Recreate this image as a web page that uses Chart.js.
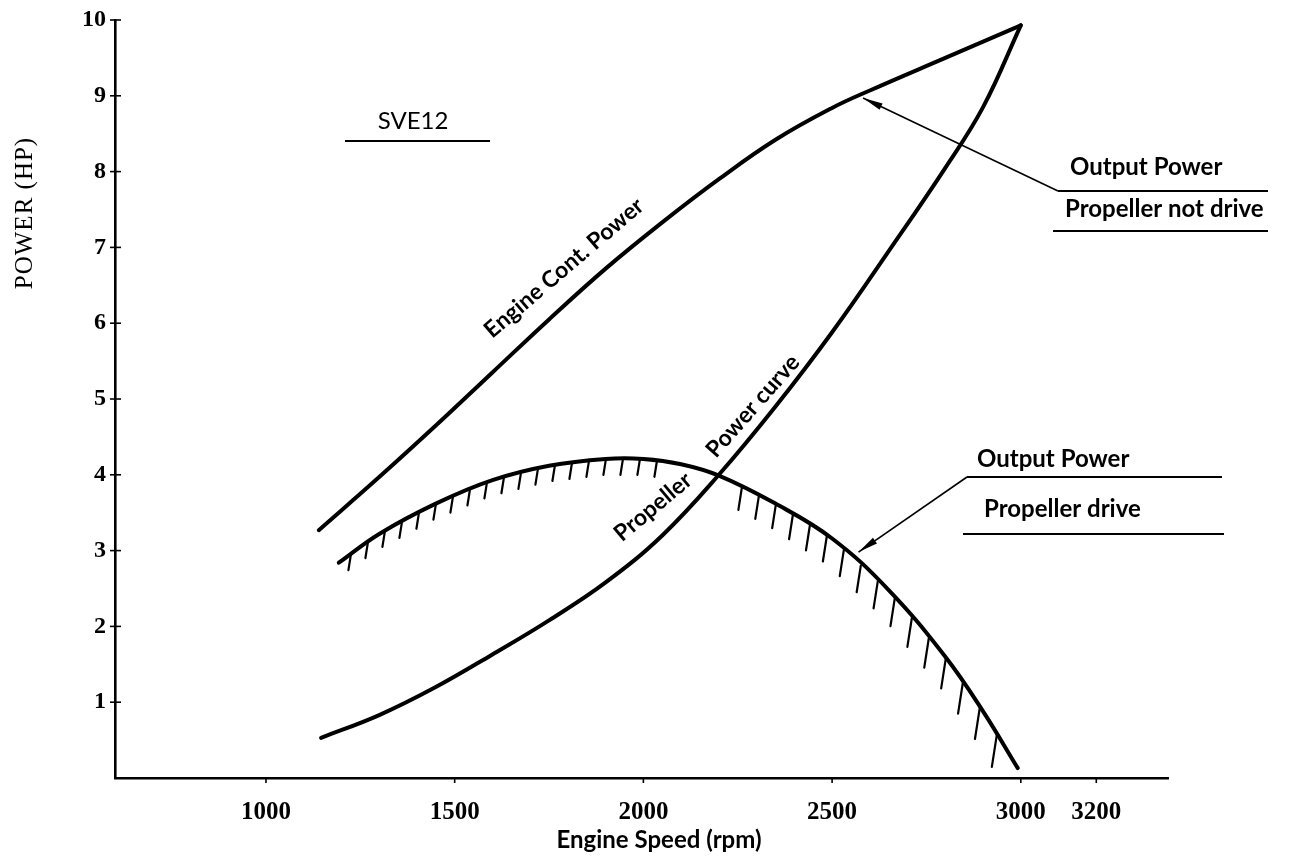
<!DOCTYPE html>
<html lang="en">
<head>
<meta charset="UTF-8">
<title>SVE12 Power Curves</title>
<script src="https://cdn.jsdelivr.net/npm/chart.js"></script>
<style>
  html, body { margin: 0; padding: 0; background: #fff; }
  #wrap { width: 1294px; height: 859px; }
</style>
</head>
<body>
<div id="wrap"><canvas id="powerChart" width="1294" height="859"></canvas></div>
<script>
// values: engine speed (rpm) / power (HP)
const engineRpm   = [1140, 1300, 1450, 1600, 1750, 1900, 2050, 2200, 2350, 2500, 2600, 2800, 3000];
const enginePower = [3.27, 3.97, 4.65, 5.35, 6.05, 6.72, 7.33, 7.90, 8.42, 8.84, 9.07, 9.50, 9.93];

const propRpm   = [1146, 1300, 1450, 1600, 1750, 1900, 2050, 2200, 2350, 2500, 2650, 2800, 2900, 3000];
const propPower = [0.53, 0.83, 1.20, 1.63, 2.08, 2.58, 3.20, 4.00, 4.90, 5.88, 6.95, 8.05, 8.85, 9.93];

const driveRpm   = [1193, 1300, 1450, 1600, 1750, 1900, 2000, 2100, 2200, 2350, 2500, 2650, 2800, 2900, 2992];
const drivePower = [2.84, 3.22, 3.62, 3.93, 4.12, 4.21, 4.21, 4.14, 3.99, 3.62, 3.16, 2.48, 1.60, 0.88, 0.13];

const xTicks = [1000, 1500, 2000, 2500, 3000, 3200];
const yTicks = [1, 2, 3, 4, 5, 6, 7, 8, 9, 10];

const toPoints = (xs, ys) => xs.map((v, i) => ({ x: v, y: ys[i] }));

const serif = '"Liberation Serif", "DejaVu Serif", serif';
const sans = 'Lato, "Open Sans", sans-serif';

function arrowTo(ctx, x0, y0, x1, y1) {
    ctx.beginPath();
    ctx.moveTo(x0, y0);
    ctx.lineTo(x1, y1);
    ctx.stroke();
    const a = Math.atan2(y1 - y0, x1 - x0);
    const L = 20, W = 3.5;
    ctx.beginPath();
    ctx.moveTo(x1, y1);
    ctx.lineTo(x1 - L * Math.cos(a) + W * Math.sin(a), y1 - L * Math.sin(a) - W * Math.cos(a));
    ctx.lineTo(x1 - L * Math.cos(a) - W * Math.sin(a), y1 - L * Math.sin(a) + W * Math.cos(a));
    ctx.closePath();
    ctx.fill();
}

function rotatedText(ctx, text, x, y, deg) {
    ctx.save();
    ctx.translate(x, y);
    ctx.rotate(deg * Math.PI / 180);
    ctx.textAlign = 'center';
    ctx.textBaseline = 'middle';
    ctx.fillText(text, 0, 0);
    ctx.restore();
}

// short hatch strokes hanging under the "propeller drive" output curve
const hatchPlugin = {
    id: 'hatch',
    afterDatasetsDraw(chart) {
        const ctx = chart.ctx;
        const xs = chart.scales.x;
        const gapA = xs.getPixelForValue(2075), gapB = xs.getPixelForValue(2235);
        chart.data.datasets.forEach((ds, i) => {
            if (!ds.hatch) return;
            const pts = chart.getDatasetMeta(i).data;
            ctx.save();
            ctx.strokeStyle = '#000';
            ctx.lineWidth = 2.2;
            ctx.lineCap = 'round';
            let seg = 0;
            for (let px = pts[0].x + 12; px < pts[pts.length - 1].x - 6; px += 17) {
                if (px > gapA && px < gapB) continue;
                while (seg < pts.length - 2 && pts[seg + 1].x < px) seg++;
                const p0 = pts[seg], p1 = pts[seg + 1];
                const py = p0.y + (p1.y - p0.y) * (px - p0.x) / (p1.x - p0.x);
                const rpm = xs.getValueForPixel(px);
                const t = Math.max(0, Math.min(1, (rpm - 2200) / 800));
                const len = rpm < 2200 ? 16 : 22 + 12 * t;
                ctx.beginPath();
                ctx.moveTo(px, py + 1);
                ctx.lineTo(px - 0.15 * len, py + len);
                ctx.stroke();
            }
            ctx.restore();
        });
    }
};

const annotatePlugin = {
    id: 'annotate',
    afterDraw(chart) {
        const ctx = chart.ctx;
        const xs = chart.scales.x, ys = chart.scales.y;
        ctx.save();
        ctx.fillStyle = '#000';
        ctx.strokeStyle = '#000';

        // tick crosses on the axes
        ctx.lineWidth = 1.6;
        yTicks.forEach(v => {
            const py = ys.getPixelForValue(v);
            ctx.beginPath();
            ctx.moveTo(xs.left - 5, py);
            ctx.lineTo(xs.left + 6, py);
            ctx.stroke();
        });
        xTicks.forEach(v => {
            const px = xs.getPixelForValue(v);
            ctx.beginPath();
            ctx.moveTo(px, ys.bottom - 1);
            ctx.lineTo(px, ys.bottom + 5);
            ctx.stroke();
        });

        // axis titles
        ctx.save();
        ctx.font = '25px ' + serif;
        ctx.letterSpacing = '1px';
        ctx.translate(25, 213);
        ctx.rotate(-Math.PI / 2);
        ctx.textAlign = 'center';
        ctx.textBaseline = 'middle';
        ctx.fillText('POWER (HP)', 0, 0);
        ctx.restore();

        ctx.font = 'bold 24px ' + sans;
        ctx.textAlign = 'center';
        ctx.textBaseline = 'middle';
        ctx.fillText('Engine Speed (rpm)', 659, 840);

        // model name
        ctx.font = '24px ' + sans;
        ctx.textBaseline = 'alphabetic';
        ctx.fillText('SVE12', 413, 129);
        ctx.lineWidth = 2;
        ctx.beginPath();
        ctx.moveTo(345, 141);
        ctx.lineTo(490, 141);
        ctx.stroke();

        // curve labels
        ctx.font = 'bold 23px ' + sans;
        rotatedText(ctx, 'Engine Cont. Power', 564, 268, -40.5);
        rotatedText(ctx, 'Power curve', 753, 406, -48.5);
        rotatedText(ctx, 'Propeller', 653, 507, -40);

        // callouts
        ctx.font = 'bold 24px ' + sans;
        ctx.textAlign = 'left';
        ctx.textBaseline = 'alphabetic';
        ctx.fillText('Output Power', 1070, 175);
        ctx.fillText('Propeller not drive', 1065, 217);
        ctx.fillText('Output Power', 977, 467);
        ctx.fillText('Propeller drive', 984, 517);

        ctx.lineWidth = 2;
        ctx.beginPath();
        ctx.moveTo(1268, 191); ctx.lineTo(1058, 191);
        ctx.moveTo(1053, 231); ctx.lineTo(1268, 231);
        ctx.moveTo(1222, 477); ctx.lineTo(967, 477);
        ctx.moveTo(963, 534); ctx.lineTo(1224, 534);
        ctx.stroke();

        ctx.lineWidth = 1.6;
        arrowTo(ctx, 1058, 191, xs.getPixelForValue(2582), ys.getPixelForValue(8.97));
        arrowTo(ctx, 967, 477, xs.getPixelForValue(2570), ys.getPixelForValue(2.98));
        ctx.restore();
    }
};

const ctx = document.getElementById('powerChart').getContext('2d');
new Chart(ctx, {
    type: 'line',
    data: {
        datasets: [
            { label: 'Engine Cont. Power', data: toPoints(engineRpm, enginePower) },
            { label: 'Propeller Power curve', data: toPoints(propRpm, propPower) },
            { label: 'Output Power Propeller drive', data: toPoints(driveRpm, drivePower), hatch: true }
        ]
    },
    options: {
        responsive: false,
        animation: false,
        layout: { padding: { top: 20, right: 126, left: 0, bottom: 0 } },
        plugins: { legend: { display: false }, tooltip: { enabled: false } },
        elements: {
            point: { radius: 0 },
            line: { borderColor: '#000', borderWidth: 4, tension: 0.4, borderCapStyle: 'round', fill: false }
        },
        scales: {
            x: {
                type: 'linear',
                min: 600,
                max: 3390,
                afterBuildTicks: s => { s.ticks = xTicks.map(v => ({ value: v })); },
                afterFit: s => { s.height = 81; },
                grid: { display: false },
                border: { display: true, color: '#000', width: 2.6 },
                ticks: { color: '#000', padding: 12, callback: v => String(v), font: { family: serif, size: 25, weight: 'bold' } }
            },
            y: {
                min: 0,
                max: 10,
                afterBuildTicks: s => { s.ticks = yTicks.map(v => ({ value: v })); },
                afterFit: s => { s.width = 115; },
                grid: { display: false },
                border: { display: true, color: '#000', width: 2.6 },
                ticks: { color: '#000', padding: 1, callback: v => String(v), font: { family: serif, size: 24, weight: 'bold' } }
            }
        }
    },
    plugins: [hatchPlugin, annotatePlugin]
});
</script>
</body>
</html>
